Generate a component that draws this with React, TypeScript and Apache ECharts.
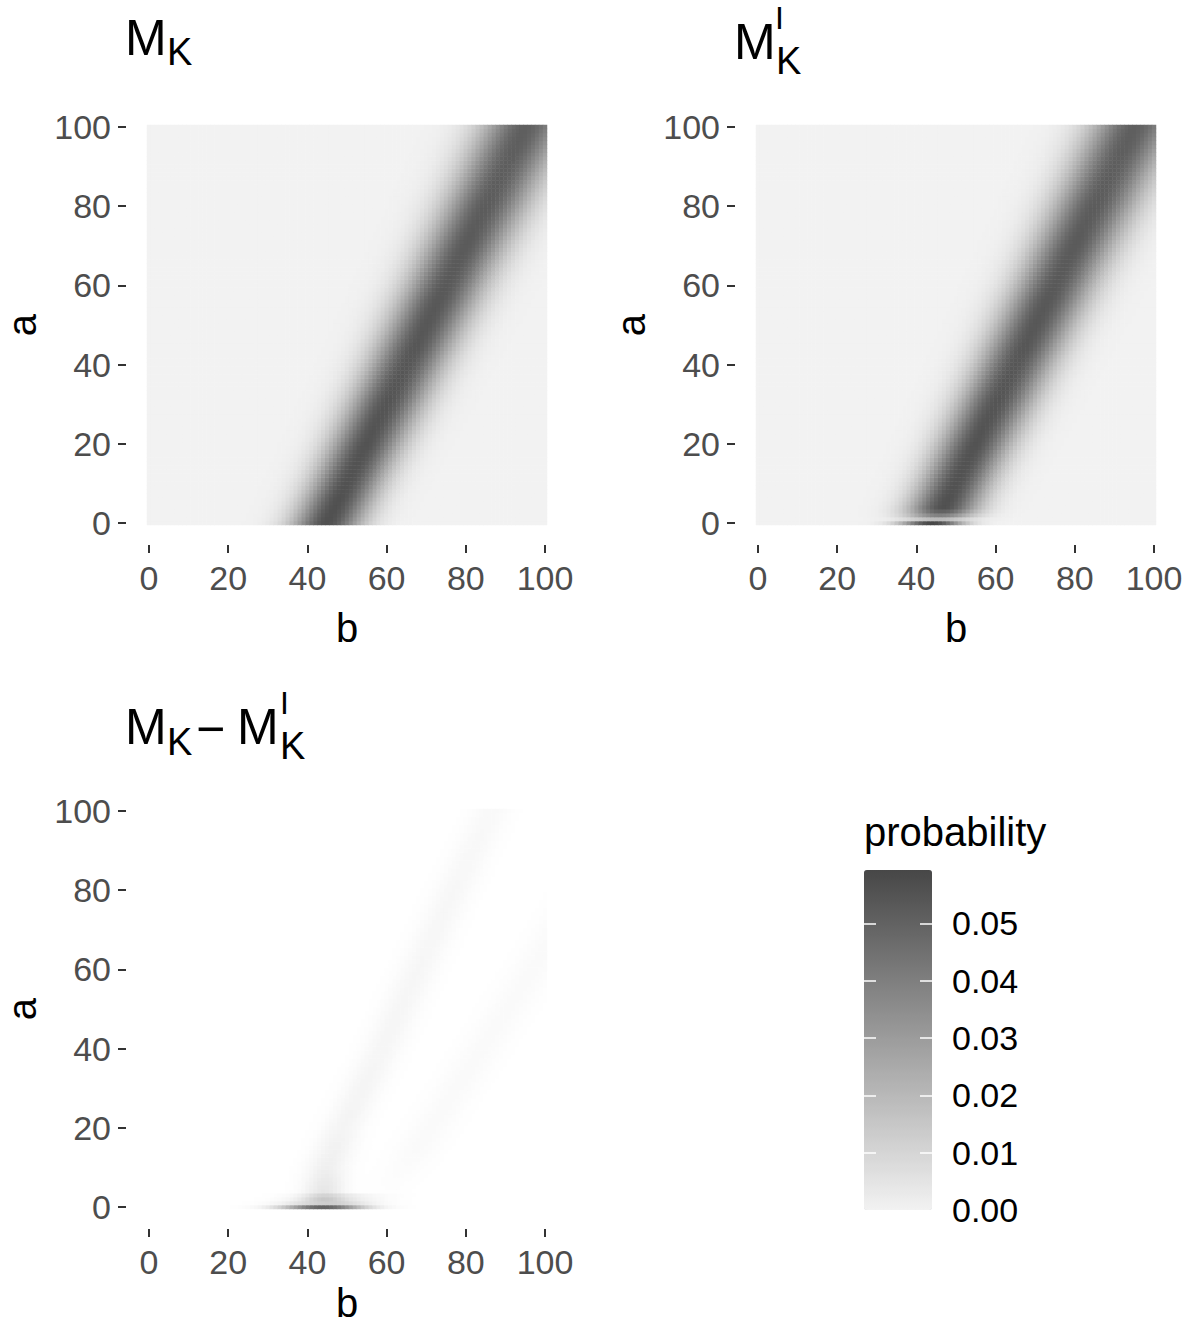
import React, { useEffect, useRef } from "react";
import * as echarts from "echarts";

// ---- axes / categories ----
const B_VALUES = Array.from({ length: 101 }, (_, i) => String(i));
const A_VALUES = Array.from({ length: 101 }, (_, i) => String(i));
const LEGEND_TICKS = [0, 0.01, 0.02, 0.03, 0.04, 0.05];
const LEGEND_INNER_TICKS = [0.01, 0.02, 0.03, 0.04, 0.05];
const PROB_MAX = 0.0593;

// ---- M_K : diagonal band, read at these rows a ----
const BAND_ROW_A = [0, 20, 40, 60, 80, 100];
const BAND_CENTRE_B = [45, 55, 65, 75, 85, 95];
const BAND_SPREAD_B = [6.2, 6.5, 6.8, 7.1, 7.4, 7.7];
const BAND_PEAK = [0.056, 0.055, 0.054, 0.053, 0.052, 0.051];

// ---- M_K^I : thin ridge on row a = 0, band damped on rows a = 1..3 ----
const MKI_RIDGE_CENTRE = 44;
const MKI_RIDGE_SPREAD = 5.5;
const MKI_RIDGE_PEAK = 0.0593;
const MKI_LOW_ROW_FACTOR = [0.35, 0.7, 0.9];

// ---- M_K - M_K^I ----
const DIFF_RIDGE_CENTRE = 44;
const DIFF_RIDGE_SPREAD = 7;
const DIFF_RIDGE_PEAK = [0.05, 0.016, 0.009, 0.006]; // rows a = 0..3
const DIFF_LEFT_A = [2, 10, 20, 40, 60, 80, 100];
const DIFF_LEFT_OFFSET = [-2, -5, -6, -6, -7, -8, -8.5];
const DIFF_LEFT_PEAK = [0.009, 0.005, 0.0035, 0.003, 0.0028, 0.0025, 0.002];
const DIFF_LEFT_SPREAD = 3.5;
const DIFF_RIGHT_A = [0, 15, 60, 75, 100];
const DIFF_RIGHT_CENTRE = [58, 68, 97, 106, 122];
const DIFF_RIGHT_PEAK = [0, 0.0016, 0.0016, 0.0016, 0.0016];
const DIFF_RIGHT_SPREAD = 4;

const FONT = '"Liberation Sans", Arial, Helvetica, sans-serif';

function interp(xs: number[], ys: number[], x: number): number {
  if (x <= xs[0]) return ys[0];
  for (let i = 1; i < xs.length; i++) {
    if (x <= xs[i]) {
      const t = (x - xs[i - 1]) / (xs[i] - xs[i - 1]);
      return ys[i - 1] + t * (ys[i] - ys[i - 1]);
    }
  }
  return ys[ys.length - 1];
}
function bump(b: number, c: number, s: number) {
  const d = (b - c) / s;
  return Math.exp(-0.5 * d * d);
}
function mk(a: number, b: number) {
  return (
    interp(BAND_ROW_A, BAND_PEAK, a) *
    bump(b, interp(BAND_ROW_A, BAND_CENTRE_B, a), interp(BAND_ROW_A, BAND_SPREAD_B, a))
  );
}
function mki(a: number, b: number) {
  if (a === 0) return MKI_RIDGE_PEAK * bump(b, MKI_RIDGE_CENTRE, MKI_RIDGE_SPREAD);
  const f = a <= MKI_LOW_ROW_FACTOR.length ? MKI_LOW_ROW_FACTOR[a - 1] : 1;
  return mk(a, b) * f;
}
function diff(a: number, b: number) {
  let v = 0;
  if (a < DIFF_RIDGE_PEAK.length)
    v += DIFF_RIDGE_PEAK[a] * bump(b, DIFF_RIDGE_CENTRE + a, DIFF_RIDGE_SPREAD);
  if (a >= DIFF_LEFT_A[0]) {
    const c = interp(BAND_ROW_A, BAND_CENTRE_B, a) + interp(DIFF_LEFT_A, DIFF_LEFT_OFFSET, a);
    v += interp(DIFF_LEFT_A, DIFF_LEFT_PEAK, a) * bump(b, c, DIFF_LEFT_SPREAD);
  }
  v += interp(DIFF_RIGHT_A, DIFF_RIGHT_PEAK, a) * bump(b, interp(DIFF_RIGHT_A, DIFF_RIGHT_CENTRE, a), DIFF_RIGHT_SPREAD);
  return v;
}
function grid(fn: (a: number, b: number) => number) {
  const out: number[][] = [];
  for (let a = 0; a < A_VALUES.length; a++)
    for (let b = 0; b < B_VALUES.length; b++) out.push([b, a, fn(a, b)]);
  return out;
}

function axes(gi: number, xNameGap: number) {
  const tick = { show: true, interval: 19, alignWithLabel: true, length: 8, lineStyle: { color: "#333333", width: 2 } };
  const label = { interval: 19, color: "#4D4D4D", fontSize: 34, fontFamily: FONT };
  const nameStyle = { fontSize: 40, lineHeight: 30, color: "#000", fontFamily: FONT };
  return {
    x: {
      type: "category", gridIndex: gi, data: B_VALUES, offset: 20,
      axisLine: { show: false }, splitLine: { show: false },
      axisTick: tick, axisLabel: { ...label, margin: 16 },
      name: "b", nameLocation: "middle", nameGap: xNameGap, nameTextStyle: nameStyle,
    },
    y: {
      type: "category", gridIndex: gi, data: A_VALUES, offset: 21,
      axisLine: { show: false }, splitLine: { show: false },
      axisTick: tick, axisLabel: { ...label, margin: 15 },
      name: "a", nameLocation: "middle", nameGap: 89, nameTextStyle: nameStyle,
    },
  };
}

function txt(text: string, x: number, y: number, size: number) {
  return {
    type: "text", x, y, silent: true,
    style: { text, fontSize: size, fontFamily: FONT, fill: "#000", align: "left", verticalAlign: "middle" },
  };
}

export default function App() {
  const ref = useRef<HTMLDivElement>(null);
  useEffect(() => {
    document.body.style.margin = "0";
    const chart = echarts.init(ref.current!, null, { renderer: "svg" });
    const g0 = axes(0, 68), g1 = axes(1, 68), g2 = axes(2, 59);
    const heat = (i: number, data: number[][]) => ({
      type: "heatmap", xAxisIndex: i, yAxisIndex: i, data, progressive: 0,
      emphasis: { disabled: true }, itemStyle: { borderWidth: 0 },
    });
    const legendTickAxis = (offset: number, inside: boolean) => ({
      type: "value", gridIndex: 3, min: 0, max: PROB_MAX, interval: 0.01, position: "left", offset, z: 20,
      axisLine: { show: false }, splitLine: { show: false }, axisLabel: { show: false },
      axisTick: {
        show: true, inside, length: 12, customValues: LEGEND_INNER_TICKS,
        lineStyle: { color: "#FFFFFF", width: 1.5 },
      },
    });
    const gridBase = { outerBoundsMode: "none", containLabel: false };
    chart.setOption({
      animation: false,
      backgroundColor: "#FFFFFF",
      grid: [
        { ...gridBase, left: 147, top: 125, width: 400, height: 400 },
        { ...gridBase, left: 756, top: 125, width: 400, height: 400 },
        { ...gridBase, left: 147, top: 809, width: 400, height: 400 },
        { ...gridBase, left: 864, top: 870, width: 68, height: 340 },
      ],
      xAxis: [g0.x, g1.x, g2.x, { type: "value", gridIndex: 3, show: false }],
      yAxis: [
        g0.y, g1.y, g2.y,
        {
          type: "value", gridIndex: 3, min: 0, max: PROB_MAX, interval: 0.01, position: "right", z: 20,
          axisLine: { show: false }, splitLine: { show: false }, axisTick: { show: false },
          axisLabel: {
            customValues: LEGEND_TICKS, margin: 20, fontSize: 34, color: "#000", fontFamily: FONT,
            formatter: (v: number) => (v > 0.0555 ? "" : v.toFixed(2)),
          },
        },
        legendTickAxis(0, true),
        legendTickAxis(-68, false),
      ],
      visualMap: [
        {
          type: "continuous", min: 0, max: PROB_MAX, seriesIndex: [0, 1], calculable: false,
          inRange: { color: ["#F2F2F2", "#474747"] }, z: 2,
          left: 864, top: 870, itemWidth: 68, itemHeight: 340, padding: 0, text: null, show: true,
        },
        {
          type: "continuous", min: 0, max: PROB_MAX, seriesIndex: [2], show: false,
          inRange: { color: ["#FFFFFF", "#474747"] },
        },
      ],
      series: [heat(0, grid(mk)), heat(1, grid(mki)), heat(2, grid(diff))],
      graphic: [
        txt("M", 125, 38, 50), txt("K", 167, 52, 38),
        txt("M", 734, 42, 50), txt("I", 775, 18, 32), txt("K", 776, 61, 38),
        txt("M", 125, 727, 50), txt("K", 167, 742, 38), txt("\u2212", 196, 729, 50),
        txt("M", 237, 727, 50), txt("I", 280, 703, 32), txt("K", 280, 746, 38),
        txt("probability", 864, 832, 40),
      ],
    });
    return () => chart.dispose();
  }, []);
  return <div ref={ref} style={{ width: 1190, height: 1328 }} />;
}
